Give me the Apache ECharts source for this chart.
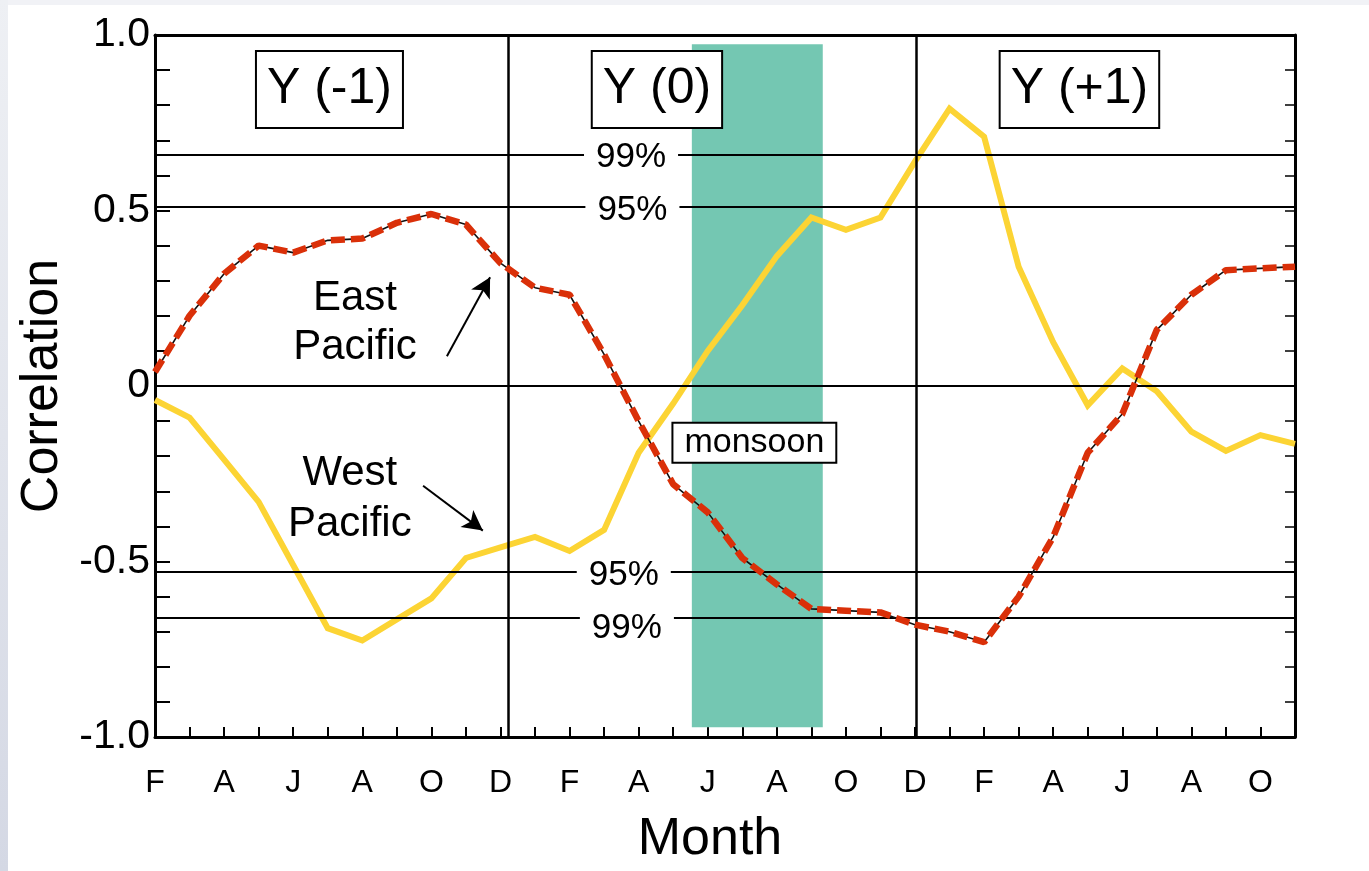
<!DOCTYPE html>
<html>
<head>
<meta charset="utf-8">
<title>Correlation by month</title>
<script src="https://cdn.jsdelivr.net/npm/echarts@6/dist/echarts.min.js"></script>
<style>
  html, body { margin: 0; padding: 0; background: #fff; }
  #frameTop { position: absolute; left: 0; top: 0; width: 1369px; height: 5px; background: #f1f2f6; }
  #frameLeft { position: absolute; left: 0; top: 0; width: 8px; height: 871px; background: linear-gradient(#eef0f4, #d4d8e4); }
  #chart { position: absolute; left: 0; top: 0; width: 1369px; height: 871px; }
</style>
</head>
<body>
<div id="frameTop"></div>
<div id="frameLeft"></div>
<div id="chart"></div>
<script>
// Months from February of Y(-1) to November of Y(+1), one point per month
const monthLetters = [
  'F','M','A','M','J','J','A','S','O','N','D','J',
  'F','M','A','M','J','J','A','S','O','N','D','J',
  'F','M','A','M','J','J','A','S','O','N'
];

// Correlation with the West Pacific index
const westPacific = [
  -0.04, -0.09, -0.21, -0.33, -0.51, -0.69, -0.725, -0.665, -0.605, -0.49, -0.46, -0.43,
  -0.47, -0.41, -0.19, -0.05, 0.10, 0.23, 0.37, 0.48, 0.445, 0.48, 0.64, 0.79,
  0.71, 0.34, 0.125, -0.055, 0.05, -0.015, -0.13, -0.185, -0.14, -0.165
];

// Correlation with the East Pacific index
const eastPacific = [
  0.04, 0.20, 0.32, 0.40, 0.38, 0.415, 0.42, 0.465, 0.49, 0.46, 0.35, 0.28,
  0.26, 0.09, -0.10, -0.28, -0.36, -0.49, -0.565, -0.635, -0.64, -0.645, -0.68, -0.70,
  -0.73, -0.60, -0.43, -0.19, -0.08, 0.16, 0.26, 0.33, 0.335, 0.34
];

// Left-axis labels keyed by tenths
const yTickText = { '10': '1.0', '5': '0.5', '0': '0', '-5': '-0.5', '-10': '-1.0' };

// Significance levels
const sigValues = [0.655, 0.51, -0.525, -0.66];
const sigTexts = ['99%', '95%', '95%', '99%'];
const sigLabelX = [13.78, 13.82, 13.57, 13.66];
const sigLabelShift = [1, 3, 5, 11];

// Year panels
const yearLabels = ['Y (-1)', 'Y (0)', 'Y (+1)'];
const yearLabelX = [5.05, 14.53, 26.76];
const yearLabelY = 0.845;
const yearBreaks = [10.22, 22.05];

// Monsoon season band (month positions) and its vertical extent
const monsoonSpan = [15.54, 19.33];
const monsoonExtent = [0.974, -0.972];

const FONT = '"Liberation Sans", Arial, Helvetica, sans-serif';

const chart = echarts.init(document.getElementById('chart'), null, { renderer: 'canvas' });

const lastIndex = monthLetters.length - 1;

// plain black text, no halo, fully opaque
const plainText = {
  show: true, position: 'inside', color: '#000', opacity: 1,
  textBorderWidth: 0, textShadowBlur: 0, fontFamily: FONT
};

const option = {
  animation: false,
  grid: { left: 155, right: 74, top: 35, bottom: 132, containLabel: false },
  xAxis: [
    {
      type: 'value', min: 0, max: lastIndex, interval: 1, position: 'bottom',
      name: 'Month', nameLocation: 'middle', nameGap: 77,
      nameTextStyle: { fontFamily: FONT, fontSize: 52, color: '#000', lineHeight: 52, padding: [0, 30, 0, 0] },
      axisLine: { show: true, onZero: false, lineStyle: { color: '#000', width: 3 } },
      axisTick: { show: true, inside: true, length: 10, lineStyle: { color: '#000', width: 2 } },
      axisLabel: {
        show: true, margin: 30, fontFamily: FONT, fontSize: 32, color: '#000',
        showMinLabel: true, showMaxLabel: true,
        formatter: v => (Math.round(v) % 2 === 0 ? monthLetters[Math.round(v)] : '')
      },
      splitLine: { show: false }
    },
    {
      type: 'value', min: 0, max: lastIndex, position: 'top',
      axisLine: { show: true, onZero: false, lineStyle: { color: '#000', width: 3 } },
      axisTick: { show: false }, axisLabel: { show: false }, splitLine: { show: false }
    }
  ],
  yAxis: [
    {
      type: 'value', min: -1, max: 1, interval: 0.1, position: 'left',
      name: 'Correlation', nameLocation: 'middle', nameGap: 85,
      nameTextStyle: { fontFamily: FONT, fontSize: 52, color: '#000', lineHeight: 52 },
      axisLine: { show: true, onZero: false, lineStyle: { color: '#000', width: 3 } },
      axisTick: { show: true, inside: true, length: 15, lineStyle: { color: '#000', width: 2 } },
      axisLabel: {
        show: true, margin: 5, fontFamily: FONT, fontSize: 41, color: '#000',
        verticalAlign: 'middle', padding: [0, 0, 16, 0],
        formatter: v => { const k = String(Math.round(v * 10)); return yTickText[k] !== undefined ? yTickText[k] : ''; }
      },
      splitLine: { show: false }
    },
    {
      type: 'value', min: -1, max: 1, interval: 0.1, position: 'right',
      axisLine: { show: true, onZero: false, lineStyle: { color: '#000', width: 3 } },
      axisTick: { show: true, inside: true, length: 10, lineStyle: { color: '#000', width: 1.5 } },
      axisLabel: { show: false }, splitLine: { show: false }
    }
  ],
  series: [
    {
      name: 'monsoon season', type: 'line', data: [], z: 1, silent: true,
      markArea: {
        silent: true,
        itemStyle: { color: '#74c7b2', opacity: 1 },
        data: [[
          { coord: [monsoonSpan[0], monsoonExtent[0]] },
          { coord: [monsoonSpan[1], monsoonExtent[1]] }
        ]]
      }
    },
    {
      name: 'reference lines', type: 'line', data: [], z: 2, silent: true,
      markLine: {
        silent: true, symbol: 'none', label: { show: false },
        lineStyle: { color: '#000', width: 2, type: 'solid' },
        data: [{ yAxis: 0 }]
          .concat(sigValues.map(v => ({ yAxis: v })))
          .concat(yearBreaks.map(x => ({ xAxis: x, lineStyle: { color: '#000', width: 2.5, type: 'solid' } })))
      }
    },
    {
      name: 'West Pacific outline', type: 'line', z: 3, silent: true,
      data: westPacific.map((v, i) => [i, v]),
      symbol: 'none', lineStyle: { color: '#111', width: 1.4 }
    },
    {
      name: 'West Pacific', type: 'line', z: 4, silent: true,
      data: westPacific.map((v, i) => [i, v]),
      symbol: 'none', lineStyle: { color: '#fcd434', width: 6, join: 'miter' }
    },
    {
      name: 'East Pacific outline', type: 'line', z: 5, silent: true,
      data: eastPacific.map((v, i) => [i, v]),
      symbol: 'none', lineStyle: { color: '#111', width: 1.6 }
    },
    {
      name: 'East Pacific', type: 'line', z: 6, silent: true,
      data: eastPacific.map((v, i) => [i, v]),
      symbol: 'none', lineStyle: { color: '#da3009', width: 6.5, type: [14, 6], cap: 'butt' }
    },
    {
      name: 'pointers', type: 'line', data: [], z: 7, silent: true,
      markLine: {
        silent: true, symbol: ['none', 'arrow'], symbolSize: [16, 20],
        label: { show: false },
        lineStyle: { color: '#000', width: 2, type: 'solid' },
        itemStyle: { color: '#000' },
        data: [
          [{ coord: [8.45, 0.085] }, { coord: [9.70, 0.31] }],
          [{ coord: [7.76, -0.284] }, { coord: [9.49, -0.412] }]
        ]
      }
    },
    {
      name: 'annotations', type: 'scatter', z: 8, silent: true,
      symbolSize: 0,
      itemStyle: { opacity: 1 },
      emphasis: { disabled: true },
      data: [].concat(
        yearLabels.map((t, i) => ({
          value: [yearLabelX[i], yearLabelY],
          label: Object.assign({}, plainText, {
            formatter: t, fontSize: 50, lineHeight: 52,
            backgroundColor: '#fff', borderColor: '#000', borderWidth: 2,
            padding: [12, 10, 11, 10]
          })
        })),
        sigTexts.map((t, i) => ({
          value: [sigLabelX[i], sigValues[i]],
          label: Object.assign({}, plainText, {
            formatter: t, offset: [0, sigLabelShift[i]],
            fontSize: 35, lineHeight: 24,
            backgroundColor: '#fff', padding: [0, 12]
          })
        })),
        [
          {
            value: [17.35, -0.162],
            label: Object.assign({}, plainText, {
              formatter: 'monsoon', fontSize: 34, lineHeight: 34,
              backgroundColor: '#fff', borderColor: '#000', borderWidth: 2,
              padding: [2, 11, 2, 11]
            })
          },
          {
            value: [5.79, 0.179],
            label: Object.assign({}, plainText, {
              formatter: 'East\nPacific', fontSize: 42, lineHeight: 49, align: 'center'
            })
          },
          {
            value: [5.64, -0.321],
            label: Object.assign({}, plainText, {
              formatter: 'West\nPacific', fontSize: 42, lineHeight: 51, align: 'center'
            })
          }
        ]
      )
    }
  ]
};

chart.setOption(option);
</script>
</body>
</html>
